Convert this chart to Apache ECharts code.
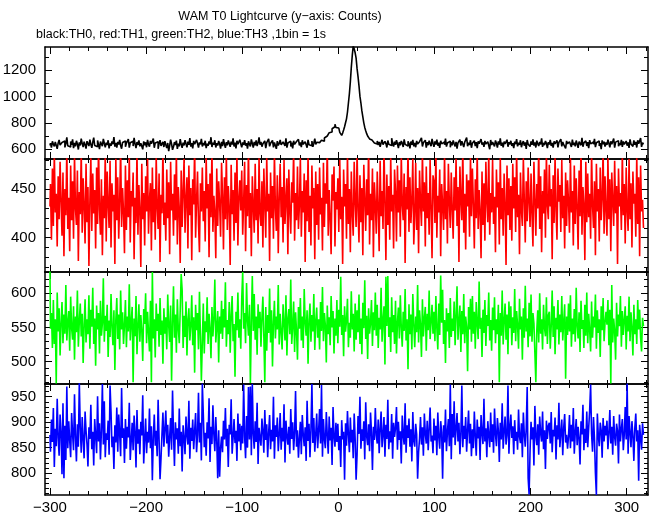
<!DOCTYPE html>
<html><head><meta charset="utf-8">
<script src="https://cdn.jsdelivr.net/npm/echarts@6/dist/echarts.min.js"></script>
<style>html,body{margin:0;padding:0;background:#fff}#c{width:652px;height:515px}</style>
</head><body><div id="c"></div>
<script>
const xStart = -300; // time of first 1 s bin
const th0 = [
628,645,612,660,638,621,655,640,603,648,670,632,619,651,637,662,614,644,690,626,
641,617,658,633,675,609,647,622,664,639,598,652,629,681,643,616,657,634,605,661,
646,624,672,637,611,653,688,628,642,619,666,635,601,658,640,623,679,645,614,650,
632,668,607,644,626,659,638,692,620,647,613,655,636,670,628,604,651,641,662,618,
645,630,676,612,649,637,660,624,686,641,608,654,633,667,622,646,639,599,659,631,
652,615,671,636,620,663,642,627,680,611,648,635,657,603,644,669,625,638,655,617,
661,634,609,647,585,626,672,640,596,618,654,631,665,602,643,622,676,637,610,650,
629,668,641,615,657,633,684,620,646,606,663,638,625,671,644,612,652,636,679,621,
648,631,664,608,642,626,659,637,691,617,650,634,668,613,645,628,662,640,604,655,
623,676,639,611,653,630,667,644,618,657,635,682,621,649,607,664,638,626,672,642,
615,651,633,669,627,646,604,660,638,621,674,643,612,655,630,666,624,648,689,634,
656,619,641,627,663,609,650,636,678,622,645,631,667,614,652,639,603,661,628,644,
670,633,618,655,640,626,683,612,647,635,661,621,649,606,664,637,624,658,643,675,
629,652,616,668,638,623,657,644,612,671,634,649,627,662,618,645,680,636,653,641,
650,660,645,668,672,660,685,690,700,712,705,725,740,730,755,748,770,790,765,780,
760,745,728,715,705,722,745,770,800,830,880,950,1020,1110,1220,1310,1380,1360,1330,1290,
1210,1150,1080,1000,950,890,845,800,765,740,718,700,690,678,665,670,655,660,648,652,
640,662,631,655,618,647,671,636,624,659,642,613,666,638,651,627,684,645,620,657,
633,668,641,609,654,629,662,646,617,675,637,652,625,660,643,606,658,634,671,622,
648,615,663,639,628,657,644,686,621,650,636,669,612,653,631,665,640,624,678,645,
618,659,635,672,627,649,610,664,641,626,655,633,681,620,647,638,662,615,652,630,
667,643,621,656,604,648,635,673,628,661,639,616,654,645,688,623,650,632,668,611,
646,637,665,624,653,609,659,642,627,676,634,651,618,663,640,629,657,644,600,670,
631,655,638,621,667,645,612,660,635,682,626,649,614,658,641,630,672,619,653,637,
664,625,646,608,657,639,676,622,650,633,668,615,644,661,627,652,603,670,638,647,
620,659,634,674,628,651,613,665,642,624,656,637,683,618,648,631,662,645,609,653,
636,671,625,647,612,660,640,629,668,614,652,638,677,621,655,634,646,606,663,641,
627,657,644,617,673,632,650,622,666,639,611,658,645,630,686,619,648,636,664,625,
653,608,669,641,628,655,637,678,616,649,634,662,624,646,601,667,639,657,620,651,
633,672,645,614,660,638,626,681,612,654,640,665,623,648,631,670,617,659,636,644,
662,627,651,610,675,639,646,621,667,634,655,613,668,642,629,684,618,650,637];
const th1 = [
432,455,398,471,412,488,426,445,391,463,419,478,437,402,467,381,450,423,492,409,
441,386,474,418,458,399,485,430,413,469,376,447,424,490,405,461,433,394,476,416,
452,371,438,483,407,466,425,449,389,472,414,495,429,403,460,382,443,420,487,396,
468,435,410,479,390,456,427,444,373,481,418,462,399,437,493,411,451,426,384,474,
408,459,421,486,395,448,432,467,378,441,415,489,403,454,429,370,476,419,446,392,
463,427,481,404,439,456,387,472,416,450,398,484,431,409,466,375,444,425,491,413,
436,397,470,420,457,383,478,428,445,402,465,418,488,393,452,430,374,469,411,447,
481,405,440,462,389,474,423,451,377,460,434,494,400,438,468,414,385,456,427,472,
417,448,396,483,430,455,380,466,421,490,406,443,426,379,471,412,458,435,401,477,
444,388,462,419,485,408,453,431,372,475,424,449,397,467,415,486,392,440,459,428,
469,403,437,478,386,454,422,492,410,446,381,463,433,405,476,418,450,394,482,425,
412,458,390,471,435,400,484,427,445,376,467,420,453,399,488,431,407,464,384,441,
476,421,452,395,480,414,439,461,383,470,428,404,457,436,491,397,446,418,473,409,
433,482,401,448,426,466,375,459,417,485,406,443,392,474,430,451,378,468,413,455,
398,472,424,441,387,477,411,456,435,494,402,449,420,383,465,438,473,391,447,429,
461,406,480,419,442,373,470,432,455,399,487,414,450,385,468,425,402,478,437,411,
489,428,395,464,416,451,382,475,440,407,460,423,496,393,445,418,471,380,457,434,
404,468,431,386,479,422,448,409,492,437,377,465,413,453,398,483,427,444,389,470,
447,396,474,426,459,401,485,434,418,466,374,452,429,490,406,462,415,438,481,393,
423,477,408,451,384,469,436,412,488,427,457,391,473,420,446,403,480,431,379,464,
458,415,490,400,443,426,470,381,455,433,408,486,419,448,394,476,437,410,467,429,
399,462,428,481,412,452,375,473,440,418,494,405,445,388,465,432,459,401,484,422,
471,434,389,460,420,487,409,449,427,379,468,413,456,397,478,438,416,490,403,446,
426,480,414,442,385,470,431,457,393,483,419,451,402,466,435,372,474,423,461,408,
453,397,476,430,462,406,489,421,444,383,467,428,412,482,439,395,458,417,472,436,
411,466,424,391,478,440,402,455,430,493,409,463,385,448,425,470,400,486,433,419,
475,432,450,378,464,415,484,428,398,471,437,454,406,480,420,443,389,467,412,459,
437,405,482,426,448,392,474,414,461,431,388,469,422,495,403,452,434,377,478,416,
466,421,445,399,487,433,410,458,382,476,427,450,396,472,418,441,491,404,463,429,
402,483,419,460,386,467,438,412,479,425,453,373,471,432,446,408,488,423,455,394,
472,428,407,481,419,456,390,468,435,445,401,485,414,462,381,474,427,439,410];
const th2 = [
632,548,571,520,590,526,562,468,601,544,578,509,556,587,527,569,541,612,531,558,
574,516,595,549,532,581,503,566,543,604,522,559,585,537,570,498,553,591,528,562,
540,597,519,576,551,608,526,563,494,582,547,571,512,589,538,556,622,529,567,545,
583,507,560,536,599,550,524,575,488,561,593,533,569,518,604,547,572,526,554,590,
521,566,544,613,531,558,580,470,563,537,596,511,552,584,529,568,546,501,577,555,
600,527,573,543,515,589,470,631,534,562,506,585,545,570,522,593,539,560,497,578,
541,565,518,598,553,529,582,472,557,610,535,569,513,591,548,527,576,628,605,520,
567,536,588,509,561,578,531,552,597,524,565,484,583,546,571,518,602,539,472,529,
585,512,559,543,594,526,570,548,505,580,537,563,620,528,551,574,499,566,541,589,
533,577,550,616,522,561,540,587,513,568,596,530,555,478,573,546,601,535,562,519,
592,631,548,571,527,615,560,538,583,469,557,625,545,599,532,566,510,584,549,573,
522,564,595,537,470,580,516,568,542,607,528,575,493,558,589,534,566,547,612,525,
570,543,518,584,556,531,597,509,563,577,540,620,526,552,588,514,572,545,503,580,
548,593,531,566,520,606,557,538,575,497,561,585,529,568,544,599,517,559,579,535,
562,518,587,545,609,530,571,553,499,582,540,565,524,596,550,574,512,563,538,590,
527,576,551,624,539,568,508,581,544,560,592,521,557,535,603,547,570,515,585,532,
575,543,598,526,563,511,586,549,619,533,567,504,578,541,556,590,523,572,546,601,
538,583,520,564,547,608,529,561,581,496,624,552,625,536,565,514,594,543,568,526,
589,512,557,579,534,597,550,522,573,545,606,531,562,489,584,540,569,518,599,555,
521,566,543,612,528,575,554,507,591,537,563,580,516,570,546,604,533,558,583,541,
573,530,596,549,518,585,539,626,557,605,526,561,498,578,544,571,520,593,536,563,
545,588,524,568,610,532,559,582,514,574,540,599,527,566,551,486,580,547,592,529,
596,541,573,519,587,555,533,617,548,564,507,576,542,590,523,568,552,601,531,561,
516,579,546,594,527,562,540,583,470,571,538,604,525,560,585,532,569,511,588,549,
581,524,565,542,606,530,574,553,519,592,547,566,503,578,535,611,544,563,521,586,
537,598,529,571,556,513,470,546,575,528,600,541,562,518,583,550,537,594,526,568,
573,519,552,604,536,581,511,564,547,590,525,569,543,596,531,558,584,475,566,539,
585,544,597,522,563,540,577,529,608,551,534,572,514,589,548,561,520,583,538,601,
527,570,546,515,588,535,566,550,598,519,575,542,562,507,581,546,593,530,557,573,
554,590,524,576,468,612,528,563,545,503,586,537,569,552,596,522,574,539,561,581,
518,567,544,595,530,572,549,509,583,540,562,526,590,547,576,535,515,564,552];
const th3 = [
875,842,905,861,928,812,887,853,946,869,834,915,880,798,937,790,893,826,970,849,
902,864,831,918,876,845,955,871,823,896,852,978,889,840,910,866,829,921,883,857,
813,890,867,934,847,881,815,906,873,839,951,862,898,827,884,975,856,941,831,878,
865,903,836,972,920,851,872,808,894,860,929,842,915,877,833,967,869,888,820,906,
848,891,870,938,826,863,899,845,913,880,811,924,858,886,837,901,874,953,819,867,
907,839,881,860,927,849,892,786,871,915,854,883,833,944,866,788,829,876,919,852,
885,923,858,895,832,871,908,846,962,878,814,900,866,888,838,927,853,881,803,894,
869,837,911,874,856,942,828,889,863,905,847,882,918,841,875,958,860,899,825,976,
916,851,879,834,900,868,947,822,891,857,933,876,843,910,864,790,884,793,849,872,
841,903,866,928,853,887,812,895,876,945,838,870,906,859,883,824,917,862,897,845,
893,858,974,872,829,912,850,969,866,970,835,975,877,848,902,861,938,818,889,870,
854,907,883,840,924,865,896,831,879,914,847,885,862,950,828,894,871,909,843,876,
918,846,889,862,935,821,903,873,856,891,838,926,867,900,845,879,961,852,884,830,
868,901,837,914,876,853,890,824,942,863,897,831,885,975,859,908,842,876,917,849,
883,926,858,973,832,906,867,849,920,875,838,911,864,889,816,930,871,852,899,861,
897,845,873,812,904,866,881,787,898,854,922,876,841,909,860,885,829,917,868,787,
836,912,877,950,848,886,863,902,827,939,872,855,896,843,919,880,806,891,865,928,
874,858,905,839,888,921,851,876,910,832,895,867,944,847,882,860,916,828,899,871,
889,930,846,901,865,882,819,913,874,856,937,840,894,869,907,852,886,823,920,863,
852,897,876,789,841,868,910,856,890,834,917,878,858,903,845,886,929,862,874,839,
907,864,893,835,919,871,848,902,880,789,894,860,925,843,881,906,853,974,827,916,
870,941,855,887,918,862,899,837,876,972,851,893,867,910,842,884,923,858,897,833,
886,849,921,873,834,905,868,891,826,914,879,857,946,862,888,831,902,875,851,919,
861,896,840,927,877,853,908,884,822,899,866,937,848,882,911,856,874,972,838,890,
915,869,892,837,904,863,881,846,925,871,859,898,831,919,876,852,888,969,790,758,
844,901,866,890,815,932,873,855,896,836,911,878,862,921,847,884,808,903,867,893,
899,858,920,841,885,872,909,827,894,866,938,851,879,905,835,889,916,860,875,848,
872,914,849,895,862,928,838,880,906,855,891,869,817,902,876,934,845,887,859,921,
851,889,923,974,877,842,910,868,800,757,917,874,853,899,884,830,908,862,893,874,
903,847,879,924,858,891,836,912,871,854,897,883,819,915,862,887,906,845,876,930,
866,976,838,912,880,851,902,873,824,889,917,862,884,785,895,870,846,898,875];

const xMajor = [-300,-200,-100,0,100,200,300];
const xMinor = [-300,-280,-260,-240,-220,-200,-180,-160,-140,-120,-100,-80,-60,-40,-20,0,20,40,60,80,100,120,140,160,180,200,220,240,260,280,300,320];
const y0Major = [600,800,1000,1200];
const y0Minor = [600,700,800,900,1000,1100,1200,1300];
const y1Major = [400,450];
const y1Minor = [370,380,390,400,410,420,430,440,450,460,470,480];
const y2Major = [500,550,600];
const y2Minor = [470,480,490,500,510,520,530,540,550,560,570,580,590,600,610,620,630];
const y3Major = [800,850,900,950];
const y3Minor = [760,770,780,790,800,810,820,830,840,850,860,870,880,890,900,910,920,930,940,950,960,970];

const titleText = 'WAM T0 Lightcurve (y\u2212axis: Counts)';
const subText = 'black:TH0, red:TH1, green:TH2, blue:TH3 ,1bin = 1s';

const FONT = "'Liberation Sans', Arial, Helvetica, sans-serif";
const X_MIN = -305.2, X_MAX = 322.2;
const panels = [
  {data: th0, color: '#000000', top: 47,  height: 112, min: 526,   max: 1374,  major: y0Major, minor: y0Minor},
  {data: th1, color: '#ff0000', top: 159, height: 113, min: 364.8, max: 480.8, major: y1Major, minor: y1Minor},
  {data: th2, color: '#00ff00', top: 272, height: 112, min: 467.4, max: 631,   major: y2Major, minor: y2Minor},
  {data: th3, color: '#0000ff', top: 384, height: 111, min: 757,   max: 975,   major: y3Major, minor: y3Minor}
];
const fmt = v => String(v).replace('-', '\u2212');

const grids = [], xAxes = [], yAxes = [], series = [];
panels.forEach((p, k) => {
  grids.push({left: 45, right: 4, top: p.top, height: p.height, containLabel: false, outerBoundsMode: 'none'});
  const mkX = (pos, vals, len, line, labels) => ({
    type: 'value', gridIndex: k, position: pos, min: X_MIN, max: X_MAX,
    axisLine: {show: line, onZero: false, lineStyle: {color: '#000', width: 1.5}},
    axisTick: {show: true, inside: true, length: len, customValues: vals, lineStyle: {color: '#000', width: 1}},
    axisLabel: labels ? {show: true, customValues: xMajor, formatter: fmt, color: '#000', fontSize: 15, fontFamily: FONT, margin: 5} : {show: false},
    splitLine: {show: false}, minorTick: {show: false}
  });
  xAxes.push(mkX('bottom', xMajor, 7, true, k === 3));
  xAxes.push(mkX('bottom', xMinor, 4, false, false));
  xAxes.push(mkX('top', xMajor, 7, true, false));
  xAxes.push(mkX('top', xMinor, 4, false, false));
  const mkY = (pos, vals, len, line, labels) => ({
    type: 'value', gridIndex: k, position: pos, min: p.min, max: p.max,
    axisLine: {show: line, onZero: false, lineStyle: {color: '#000', width: 1.5}},
    axisTick: {show: true, inside: true, length: len, customValues: vals, lineStyle: {color: '#000', width: 1}},
    axisLabel: labels ? {show: true, customValues: p.major, formatter: v => String(v), color: '#000', fontSize: 15, fontFamily: FONT, margin: 9} : {show: false},
    splitLine: {show: false}, minorTick: {show: false}
  });
  yAxes.push(mkY('left', p.major, 7, true, true));
  yAxes.push(mkY('left', p.minor, 4, false, false));
  yAxes.push(mkY('right', p.major, 7, true, false));
  yAxes.push(mkY('right', p.minor, 4, false, false));
  series.push({
    type: 'line', xAxisIndex: k * 4, yAxisIndex: k * 4, step: 'middle',
    showSymbol: false, symbol: 'none', clip: true, silent: true,
    lineStyle: {color: p.color, width: 1.6},
    data: p.data.map((v, i) => [xStart + i, v])
  });
});

const chart = echarts.init(document.getElementById('c'), null, {renderer: 'canvas'});
chart.setOption({
  backgroundColor: '#fff',
  animation: false,
  grid: grids, xAxis: xAxes, yAxis: yAxes, series: series,
  graphic: [
    {type: 'text', x: 280, y: 17, style: {text: titleText, textAlign: 'center', textVerticalAlign: 'middle', font: '12.5px ' + FONT, fill: '#000'}},
    {type: 'text', x: 36, y: 35, style: {text: subText, textAlign: 'left', textVerticalAlign: 'middle', font: '12.5px ' + FONT, fill: '#000'}}
  ]
});
</script>
</body></html>
